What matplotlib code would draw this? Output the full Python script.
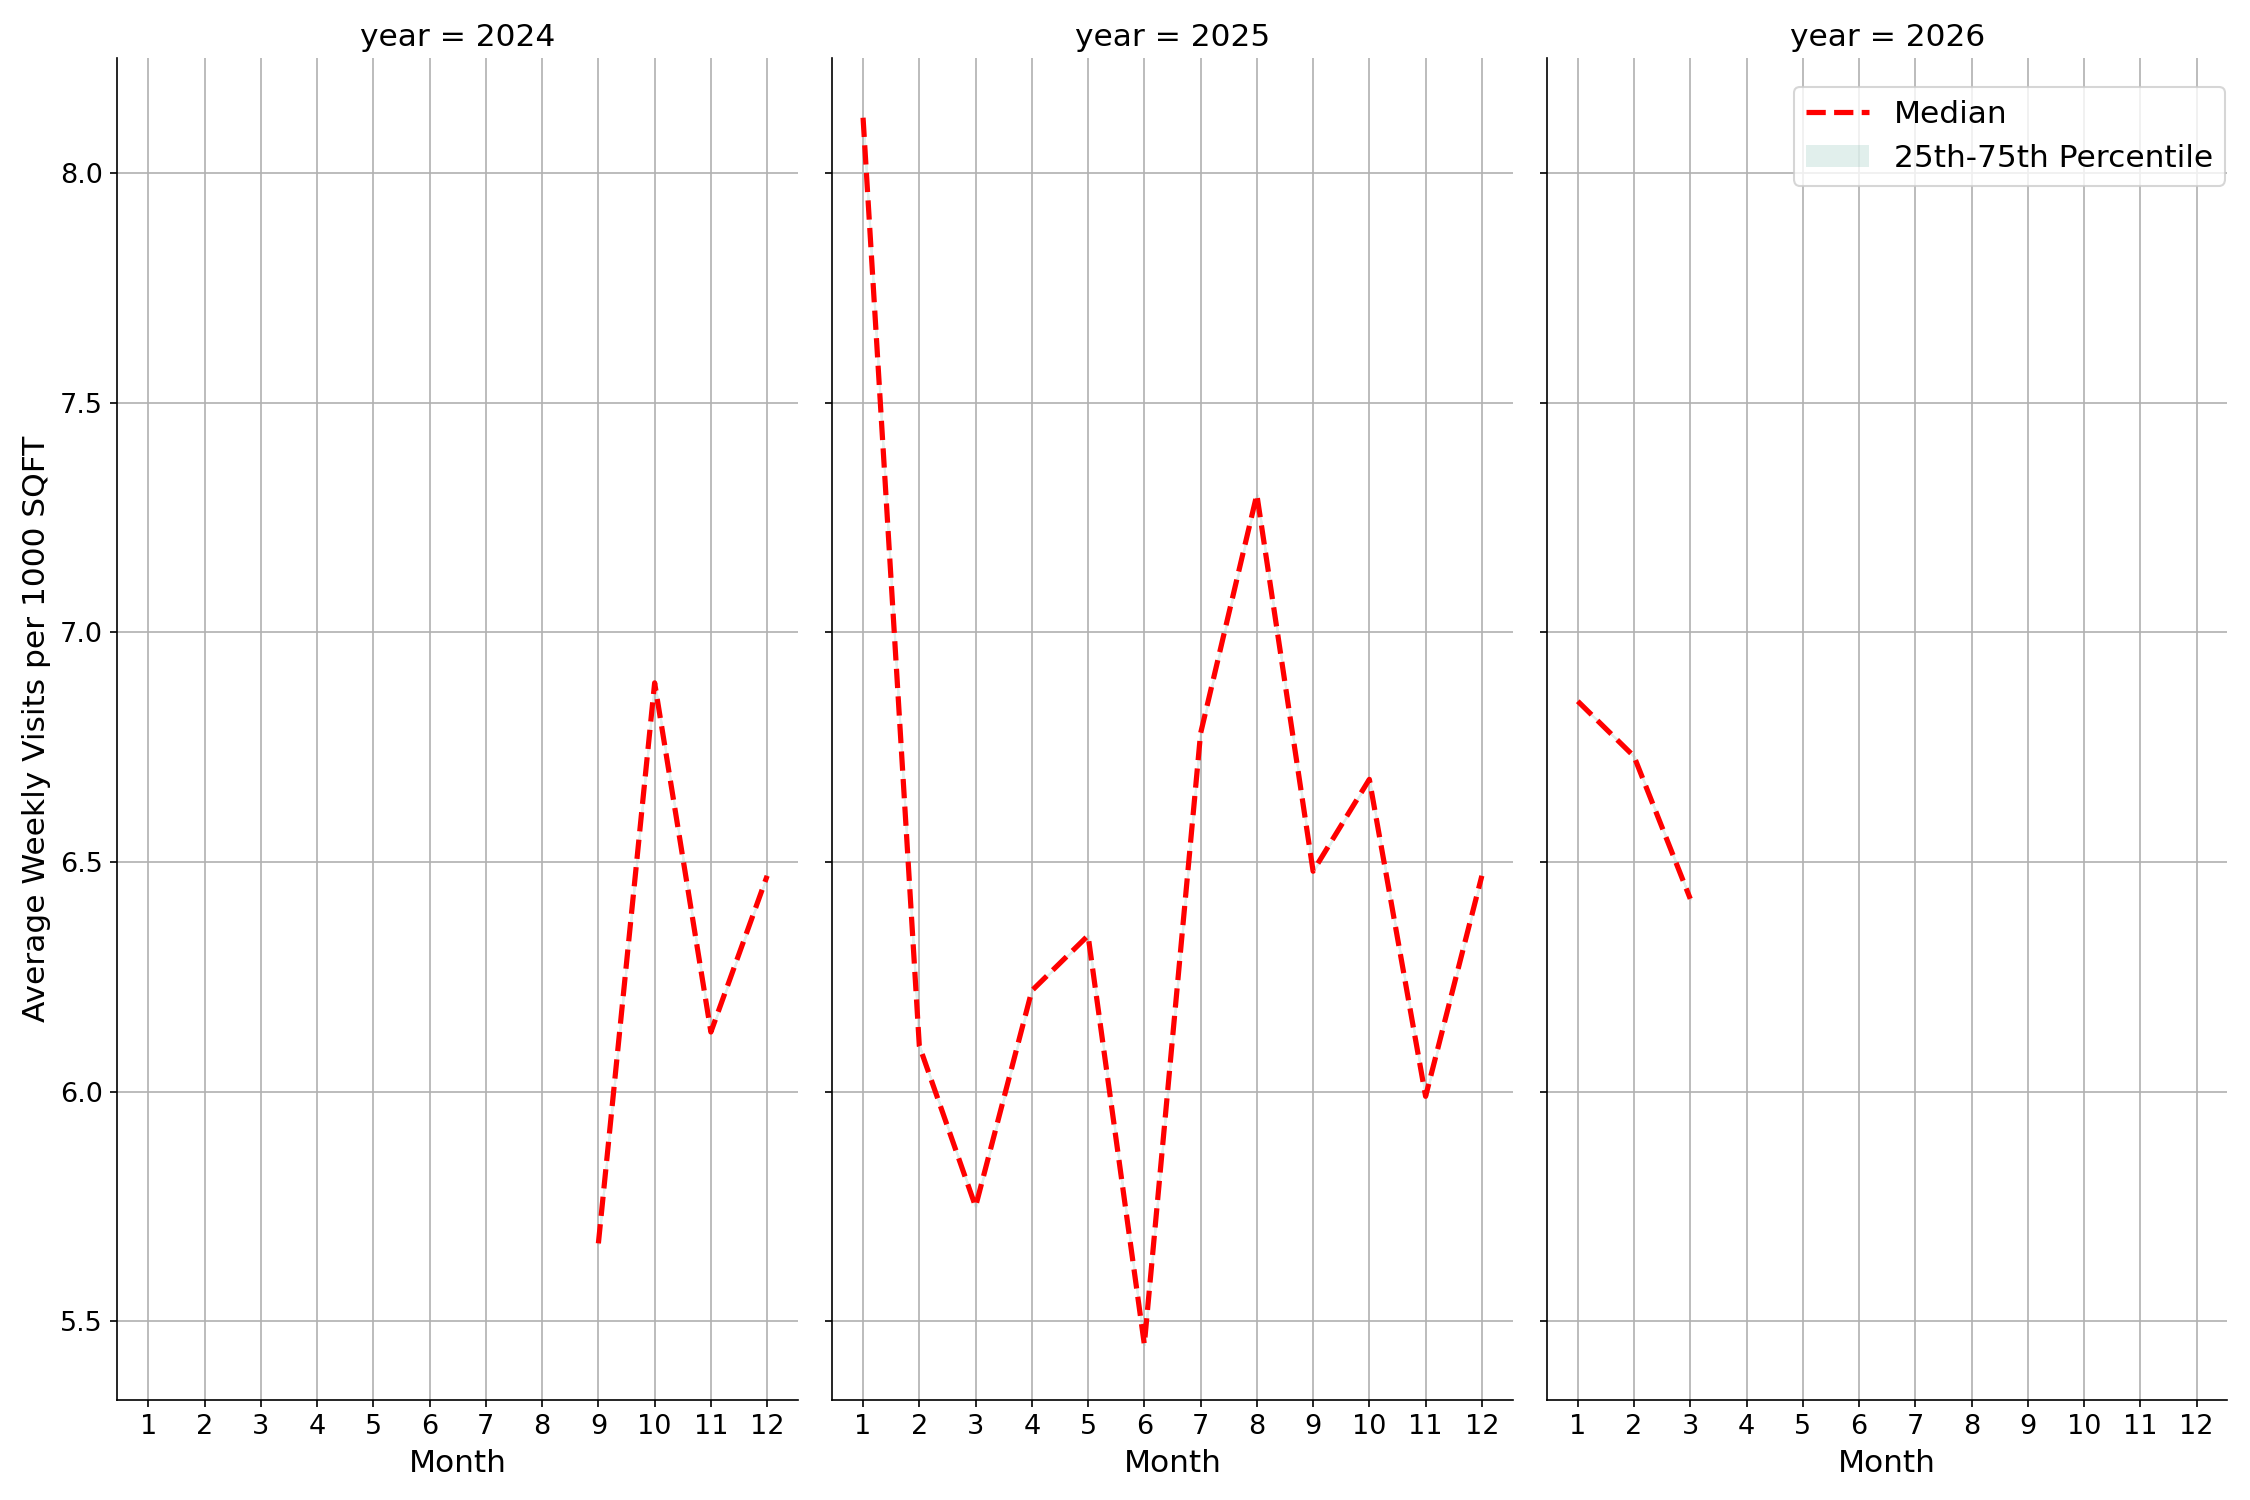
import numpy as np
import matplotlib.pyplot as plt
from matplotlib.patches import Patch
from matplotlib.lines import Line2D

years = [2024, 2025, 2026]
months_2024 = [9, 10, 11, 12]
median_2024 = [5.67, 6.89, 6.13, 6.47]
months_2025 = [1, 2, 3, 4, 5, 6, 7, 8, 9, 10, 11, 12]
median_2025 = [8.12, 6.10, 5.75, 6.22, 6.34, 5.45, 6.78, 7.30, 6.48, 6.68, 5.99, 6.47]
months_2026 = [1, 2, 3]
median_2026 = [6.85, 6.73, 6.42]

series = [(months_2024, median_2024), (months_2025, median_2025), (months_2026, median_2026)]

fig, axes = plt.subplots(1, 3, figsize=(15, 10), dpi=150, sharey=True)
for ax, yr, (m, v) in zip(axes, years, series):
    ax.fill_between(m, v, v, color='#69b3a2', alpha=0.2)
    ax.plot(m, v, color='red', ls='--', lw=2.5)
    ax.set_title(f"year = {yr}", fontsize=15)
    ax.set_xlabel("Month", fontsize=15)
    ax.set_xticks(range(1, 13))
    ax.set_xlim(0.45, 12.55)
    ax.grid(True, color='#b0b0b0')
    ax.tick_params(labelsize=13)
    ax.spines['top'].set_visible(False)
    ax.spines['right'].set_visible(False)
axes[0].set_ylim(5.33, 8.25)
axes[0].set_yticks([5.5, 6.0, 6.5, 7.0, 7.5, 8.0])
axes[0].set_ylabel("Average Weekly Visits per 1000 SQFT", fontsize=15)

handles = [Line2D([], [], color='red', ls='--', lw=2.5),
           Patch(facecolor='#69b3a2', alpha=0.2)]
axes[2].legend(handles, ['Median', '25th-75th Percentile'], loc='upper right',
               fontsize=15, bbox_to_anchor=(1.02, 0.99))

plt.tight_layout()
fig.subplots_adjust(wspace=0.05)
plt.savefig("out.png")
